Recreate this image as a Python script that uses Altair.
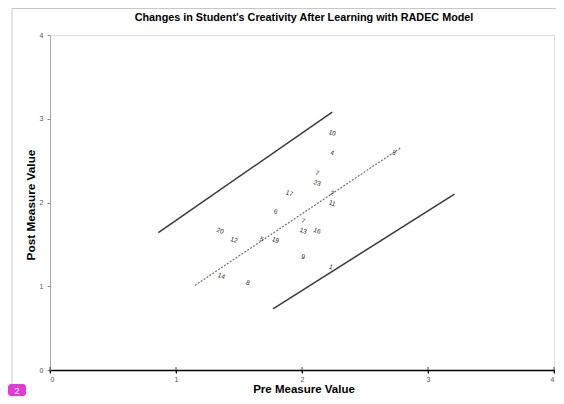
import altair as alt
import pandas as pd

# Student data (pre / post measure values) with labels
labels = ["10", "4", "7", "23", "17", "2", "11", "6", "7", "13", "16", "20",
          "12", "5", "19", "9", "1", "14", "8", "3"]
pre = [2.24, 2.24, 2.12, 2.12, 1.90, 2.24, 2.24, 1.79, 2.01, 2.01, 2.12, 1.35,
       1.46, 1.68, 1.79, 2.01, 2.23, 1.36, 1.57, 2.73]
post = [2.83, 2.59, 2.35, 2.23, 2.11, 2.11, 1.99, 1.89, 1.78, 1.66, 1.66, 1.66,
        1.55, 1.56, 1.55, 1.35, 1.23, 1.12, 1.04, 2.59]

# Reference lines (endpoints)
upper_x = [0.86, 2.24]
upper_y = [1.64, 3.08]
lower_x = [1.77, 3.21]
lower_y = [0.73, 2.10]
trend_x = [1.15, 2.78]
trend_y = [1.01, 2.65]

tick_vals = [0, 1, 2, 3, 4]

title_text = "Changes in Student's Creativity After Learning with RADEC Model"
x_title = "Pre Measure Value"
y_title = "Post Measure Value"

FONT = "Liberation Sans"
W, H = 504, 335

pts = pd.DataFrame({"pre": pre, "post": post, "label": labels})
lines = pd.DataFrame({
    "x": upper_x + lower_x + trend_x,
    "y": upper_y + lower_y + trend_y,
    "line": ["upper"] * 2 + ["lower"] * 2 + ["trend"] * 2,
})

xs = alt.Scale(domain=[0, 4], nice=False, zero=False)
ys = alt.Scale(domain=[0, 4], nice=False, zero=False)

x_axis = alt.Axis(values=tick_vals, format="d", grid=False, domainColor="#000000", domainWidth=1.5,
                  tickColor="#000000", tickSize=3, labelFontSize=7, labelColor="#555555",
                  labelFont=FONT, labelPadding=2, title=None)
y_axis = alt.Axis(values=tick_vals, format="d", grid=False, domainColor="#a6a6a6", domainWidth=1,
                  tickColor="#888888", tickSize=3, labelFontSize=7, labelColor="#555555",
                  labelFont=FONT, labelPadding=4, title=None)

solid = alt.Chart(lines).transform_filter(alt.datum.line != "trend").mark_line(
    color="#3a3a3a", strokeWidth=1.5
).encode(
    x=alt.X("x:Q", scale=xs, axis=x_axis),
    y=alt.Y("y:Q", scale=ys, axis=y_axis),
    detail="line:N",
)

trend = alt.Chart(lines).transform_filter(alt.datum.line == "trend").mark_line(
    color="#707070", strokeWidth=1.2, strokeDash=[2, 1.5]
).encode(x=alt.X("x:Q", scale=xs), y=alt.Y("y:Q", scale=ys))

text = alt.Chart(pts).mark_text(
    fontSize=6.5, color="#2a2a2a", font=FONT, angle=20, align="center", baseline="middle"
).encode(x=alt.X("pre:Q", scale=xs), y=alt.Y("post:Q", scale=ys), text="label:N")

ticks = alt.Chart(pd.DataFrame({"t": tick_vals})).mark_tick(
    color="#000000", thickness=1, size=6, orient="vertical"
).encode(x=alt.X("t:Q", scale=xs), y=alt.value(H))

dummy = pd.DataFrame({"a": [0]})
title_mark = alt.Chart(dummy).mark_text(
    font=FONT, fontSize=10.8, fontWeight="bold", color="#000000", align="center", baseline="middle"
).encode(x=alt.value(254), y=alt.value(-17), text=alt.value(title_text))
x_title_mark = alt.Chart(dummy).mark_text(
    font=FONT, fontSize=11.5, fontWeight="bold", color="#000000", align="center", baseline="alphabetic"
).encode(x=alt.value(254), y=alt.value(358), text=alt.value(x_title))
y_title_mark = alt.Chart(dummy).mark_text(
    font=FONT, fontSize=11.8, fontWeight="bold", color="#000000", align="center", baseline="middle",
    angle=270
).encode(x=alt.value(-19), y=alt.value(170), text=alt.value(y_title))
left_border = alt.Chart(dummy).mark_rule(color="#c8c8c8", strokeWidth=1).encode(
    x=alt.value(-38), y=alt.value(-27), y2=alt.value(361))
top_border = alt.Chart(dummy).mark_rule(color="#c8c8c8", strokeWidth=1).encode(
    x=alt.value(-38), x2=alt.value(506), y=alt.value(-26.5))
badge = alt.Chart(dummy).mark_rect(color="#e03ad8", cornerRadius=3).encode(
    x=alt.value(-42), x2=alt.value(-24), y=alt.value(349), y2=alt.value(361))
badge_txt = alt.Chart(dummy).mark_text(color="#ffffff", fontSize=9, font=FONT,
                                       baseline="middle").encode(
    x=alt.value(-33), y=alt.value(355.5), text=alt.value("2"))

chart = alt.layer(solid, trend, text, ticks, title_mark, x_title_mark, y_title_mark,
                  left_border, top_border, badge, badge_txt).properties(
    width=W,
    height=H,
    autosize=alt.AutoSizeParams(type="none"),
    padding={"left": 42, "top": 27, "right": 2, "bottom": 26},
).configure_view(stroke="#a6a6a6", strokeWidth=1).configure(background="#ffffff")

chart.save("out.html", embed_options={"renderer": "svg", "actions": False})
